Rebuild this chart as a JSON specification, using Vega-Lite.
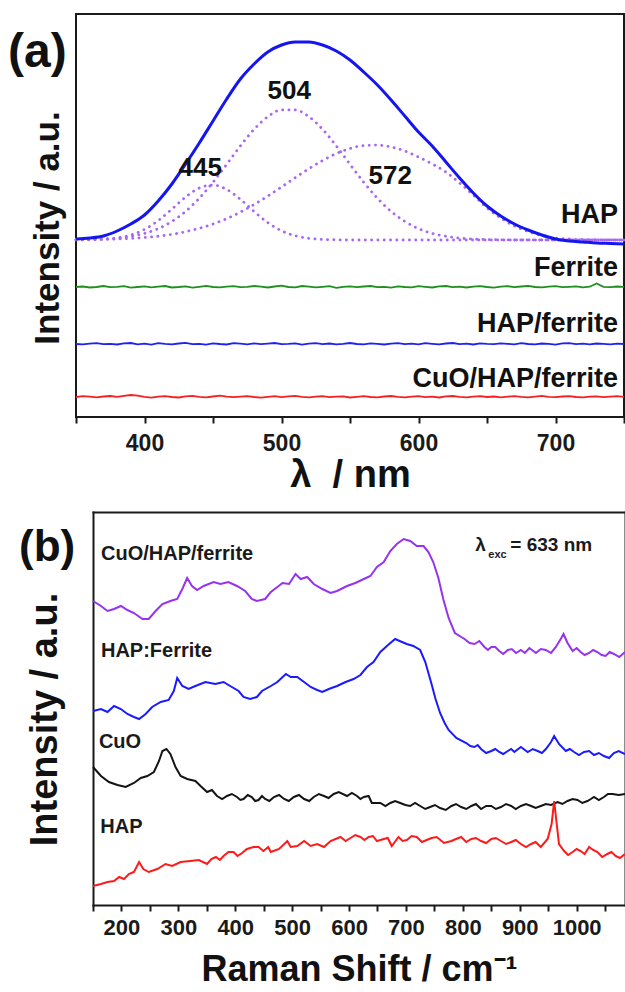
{
  "$schema": "https://vega.github.io/schema/vega-lite/v6.json",
  "padding": {"left": 7, "top": 13, "right": 0, "bottom": 0},
  "background": "white",
  "config": {
    "font": "Liberation Sans",
    "view": {"stroke": "#1a1a1a", "strokeWidth": 2},
    "axis": {
      "grid": false, "domain": false,
      "labelFontWeight": "bold", "titleFontWeight": "bold",
      "labelColor": "#1a1a1a", "titleColor": "#111111",
      "tickColor": "#1a1a1a", "tickWidth": 2, "tickSize": 6,
      "domainColor": "#1a1a1a", "domainWidth": 2, "domainCap": "square"
    }
  },
  "columns": 1,
  "spacing": 17,
  "resolve": {"scale": {"color": "independent"}},
  "datasets": {
    "pl_fit": [
      {"w":350,"c445":177.1,"c504":177.2,"c572":177.2,"HAP":178},
      {"w":360,"c445":177.2,"c504":177.4,"c572":177.4,"HAP":179},
      {"w":370,"c445":177.8,"c504":177.9,"c572":177.6,"HAP":181},
      {"w":380,"c445":179.1,"c504":178.9,"c572":178,"HAP":186},
      {"w":390,"c445":182,"c504":180.7,"c572":178.6,"HAP":193},
      {"w":400,"c445":187.6,"c504":183.6,"c572":179.5,"HAP":202},
      {"w":410,"c445":196.4,"c504":188.4,"c572":180.8,"HAP":216},
      {"w":420,"c445":207.9,"c504":195.6,"c572":182.7,"HAP":233},
      {"w":430,"c445":220,"c504":205.6,"c572":185.3,"HAP":253},
      {"w":440,"c445":229,"c504":218.8,"c572":188.7,"HAP":274},
      {"w":450,"c445":232,"c504":234.8,"c572":193,"HAP":296},
      {"w":460,"c445":227.6,"c504":252.7,"c572":198.4,"HAP":318},
      {"w":470,"c445":217.7,"c504":271.1,"c572":204.9,"HAP":338},
      {"w":480,"c445":205.5,"c504":287.7,"c572":212.5,"HAP":353},
      {"w":490,"c445":194.4,"c504":300.3,"c572":220.9,"HAP":365},
      {"w":500,"c445":186.2,"c504":307.1,"c572":230,"HAP":372},
      {"w":510,"c445":181.3,"c504":307.1,"c572":239.3,"HAP":375},
      {"w":520,"c445":178.7,"c504":300.3,"c572":248.3,"HAP":375},
      {"w":530,"c445":177.6,"c504":287.7,"c572":256.5,"HAP":372},
      {"w":540,"c445":177.2,"c504":271.1,"c572":263.4,"HAP":366},
      {"w":550,"c445":177,"c504":252.7,"c572":268.5,"HAP":357},
      {"w":560,"c445":177,"c504":234.8,"c572":271.4,"HAP":345},
      {"w":570,"c445":177,"c504":218.8,"c572":271.9,"HAP":332},
      {"w":580,"c445":177,"c504":205.6,"c572":270,"HAP":317},
      {"w":590,"c445":177,"c504":195.6,"c572":266,"HAP":301},
      {"w":600,"c445":177,"c504":188.4,"c572":260,"HAP":285},
      {"w":610,"c445":177,"c504":183.6,"c572":253,"HAP":271},
      {"w":620,"c445":177,"c504":180.7,"c572":245,"HAP":255},
      {"w":630,"c445":177,"c504":178.9,"c572":234,"HAP":239},
      {"w":640,"c445":177,"c504":177.9,"c572":222,"HAP":224},
      {"w":650,"c445":177,"c504":177.4,"c572":209,"HAP":211},
      {"w":660,"c445":177,"c504":177.2,"c572":199,"HAP":201},
      {"w":670,"c445":177,"c504":177,"c572":191,"HAP":193},
      {"w":680,"c445":177,"c504":177,"c572":185.5,"HAP":187},
      {"w":690,"c445":177,"c504":177,"c572":181.5,"HAP":182},
      {"w":700,"c445":177,"c504":177,"c572":179,"HAP":178},
      {"w":710,"c445":177,"c504":177,"c572":178,"HAP":176},
      {"w":720,"c445":177,"c504":177,"c572":177.5,"HAP":175},
      {"w":730,"c445":177,"c504":177,"c572":177.2,"HAP":174},
      {"w":740,"c445":177,"c504":177,"c572":177,"HAP":173.5},
      {"w":750,"c445":177,"c504":177,"c572":177,"HAP":173}
    ],
    "pl_flat": [
      {"w":350,"Ferrite":130,"HAPferrite":73,"CuOHAPferrite":20},
      {"w":355,"Ferrite":130.5,"HAPferrite":72.6,"CuOHAPferrite":20.8},
      {"w":360,"Ferrite":129.5,"HAPferrite":73.4,"CuOHAPferrite":20.3},
      {"w":365,"Ferrite":130,"HAPferrite":73.9,"CuOHAPferrite":19.6},
      {"w":370,"Ferrite":131,"HAPferrite":72.8,"CuOHAPferrite":20.5},
      {"w":375,"Ferrite":129.8,"HAPferrite":73.2,"CuOHAPferrite":21},
      {"w":380,"Ferrite":130.2,"HAPferrite":72.5,"CuOHAPferrite":20.2},
      {"w":385,"Ferrite":130.8,"HAPferrite":73.6,"CuOHAPferrite":21.2},
      {"w":390,"Ferrite":129.4,"HAPferrite":74,"CuOHAPferrite":22},
      {"w":395,"Ferrite":130,"HAPferrite":72.7,"CuOHAPferrite":21.4},
      {"w":400,"Ferrite":130.6,"HAPferrite":73.3,"CuOHAPferrite":20.1},
      {"w":405,"Ferrite":129.7,"HAPferrite":72.4,"CuOHAPferrite":19.3},
      {"w":410,"Ferrite":130.3,"HAPferrite":73.8,"CuOHAPferrite":20.4},
      {"w":415,"Ferrite":131,"HAPferrite":73.1,"CuOHAPferrite":20.9},
      {"w":420,"Ferrite":129.5,"HAPferrite":72.6,"CuOHAPferrite":20},
      {"w":425,"Ferrite":130,"HAPferrite":73.5,"CuOHAPferrite":19.5},
      {"w":430,"Ferrite":130.7,"HAPferrite":74.1,"CuOHAPferrite":20.6},
      {"w":435,"Ferrite":129.3,"HAPferrite":72.9,"CuOHAPferrite":21.1},
      {"w":440,"Ferrite":130.2,"HAPferrite":73.2,"CuOHAPferrite":20.2},
      {"w":445,"Ferrite":131.2,"HAPferrite":72.3,"CuOHAPferrite":19.7},
      {"w":450,"Ferrite":130,"HAPferrite":73.7,"CuOHAPferrite":20.5},
      {"w":455,"Ferrite":129.6,"HAPferrite":73,"CuOHAPferrite":21.3},
      {"w":460,"Ferrite":130.4,"HAPferrite":72.5,"CuOHAPferrite":20.4},
      {"w":465,"Ferrite":130.9,"HAPferrite":73.9,"CuOHAPferrite":19.8},
      {"w":470,"Ferrite":129.8,"HAPferrite":73.3,"CuOHAPferrite":20.3},
      {"w":475,"Ferrite":130.1,"HAPferrite":72.7,"CuOHAPferrite":20.9},
      {"w":480,"Ferrite":131,"HAPferrite":73.6,"CuOHAPferrite":20},
      {"w":485,"Ferrite":130.3,"HAPferrite":72.9,"CuOHAPferrite":19.4},
      {"w":490,"Ferrite":129.5,"HAPferrite":73.4,"CuOHAPferrite":20.2},
      {"w":495,"Ferrite":130.5,"HAPferrite":74,"CuOHAPferrite":20.8},
      {"w":500,"Ferrite":131.3,"HAPferrite":72.8,"CuOHAPferrite":19.9},
      {"w":505,"Ferrite":130,"HAPferrite":73.1,"CuOHAPferrite":20.6},
      {"w":510,"Ferrite":129.7,"HAPferrite":73.7,"CuOHAPferrite":21.2},
      {"w":515,"Ferrite":131,"HAPferrite":72.4,"CuOHAPferrite":20.1},
      {"w":520,"Ferrite":130.4,"HAPferrite":73.3,"CuOHAPferrite":19.6},
      {"w":525,"Ferrite":129.6,"HAPferrite":73.8,"CuOHAPferrite":20.4},
      {"w":530,"Ferrite":130.2,"HAPferrite":72.9,"CuOHAPferrite":20.9},
      {"w":535,"Ferrite":130.8,"HAPferrite":73.5,"CuOHAPferrite":19.8},
      {"w":540,"Ferrite":129.2,"HAPferrite":72.6,"CuOHAPferrite":20.3},
      {"w":545,"Ferrite":130.1,"HAPferrite":73.2,"CuOHAPferrite":20.7},
      {"w":550,"Ferrite":130.6,"HAPferrite":74,"CuOHAPferrite":19.5},
      {"w":555,"Ferrite":129.8,"HAPferrite":73,"CuOHAPferrite":20.2},
      {"w":560,"Ferrite":130.5,"HAPferrite":72.7,"CuOHAPferrite":20.8},
      {"w":565,"Ferrite":131,"HAPferrite":73.6,"CuOHAPferrite":20},
      {"w":570,"Ferrite":129.9,"HAPferrite":73.1,"CuOHAPferrite":19.6},
      {"w":575,"Ferrite":130.2,"HAPferrite":72.5,"CuOHAPferrite":20.5},
      {"w":580,"Ferrite":129.4,"HAPferrite":73.4,"CuOHAPferrite":21},
      {"w":585,"Ferrite":130.7,"HAPferrite":73.9,"CuOHAPferrite":20.1},
      {"w":590,"Ferrite":130,"HAPferrite":72.8,"CuOHAPferrite":19.7},
      {"w":595,"Ferrite":129.6,"HAPferrite":73.3,"CuOHAPferrite":20.4},
      {"w":600,"Ferrite":130.8,"HAPferrite":72.6,"CuOHAPferrite":20.8},
      {"w":605,"Ferrite":130.2,"HAPferrite":73.8,"CuOHAPferrite":19.9},
      {"w":610,"Ferrite":129.5,"HAPferrite":73.2,"CuOHAPferrite":20.3},
      {"w":615,"Ferrite":130.6,"HAPferrite":72.7,"CuOHAPferrite":19.5},
      {"w":620,"Ferrite":131,"HAPferrite":73.5,"CuOHAPferrite":20.6},
      {"w":625,"Ferrite":129.9,"HAPferrite":74,"CuOHAPferrite":21},
      {"w":630,"Ferrite":130.3,"HAPferrite":72.9,"CuOHAPferrite":20.2},
      {"w":635,"Ferrite":129.5,"HAPferrite":73.3,"CuOHAPferrite":19.6},
      {"w":640,"Ferrite":130.4,"HAPferrite":72.5,"CuOHAPferrite":20.4},
      {"w":645,"Ferrite":130.9,"HAPferrite":73.7,"CuOHAPferrite":20.9},
      {"w":650,"Ferrite":130,"HAPferrite":73.1,"CuOHAPferrite":20},
      {"w":655,"Ferrite":129.4,"HAPferrite":72.8,"CuOHAPferrite":20.5},
      {"w":660,"Ferrite":130.3,"HAPferrite":73.6,"CuOHAPferrite":19.7},
      {"w":665,"Ferrite":130.8,"HAPferrite":73.2,"CuOHAPferrite":20.3},
      {"w":670,"Ferrite":129.8,"HAPferrite":72.6,"CuOHAPferrite":20.8},
      {"w":675,"Ferrite":130.5,"HAPferrite":73.9,"CuOHAPferrite":20.1},
      {"w":680,"Ferrite":131.1,"HAPferrite":73,"CuOHAPferrite":19.6},
      {"w":685,"Ferrite":130,"HAPferrite":72.7,"CuOHAPferrite":20.4},
      {"w":690,"Ferrite":129.6,"HAPferrite":73.5,"CuOHAPferrite":21.1},
      {"w":695,"Ferrite":130.4,"HAPferrite":73.1,"CuOHAPferrite":20.2},
      {"w":700,"Ferrite":130.9,"HAPferrite":72.4,"CuOHAPferrite":19.8},
      {"w":705,"Ferrite":129.8,"HAPferrite":73.6,"CuOHAPferrite":20.5},
      {"w":710,"Ferrite":130.2,"HAPferrite":73.9,"CuOHAPferrite":20.9},
      {"w":715,"Ferrite":130.7,"HAPferrite":72.9,"CuOHAPferrite":20},
      {"w":720,"Ferrite":129.7,"HAPferrite":73.3,"CuOHAPferrite":19.6},
      {"w":725,"Ferrite":130.3,"HAPferrite":72.7,"CuOHAPferrite":20.3},
      {"w":730,"Ferrite":133.5,"HAPferrite":73.5,"CuOHAPferrite":20.7},
      {"w":735,"Ferrite":130.2,"HAPferrite":73.1,"CuOHAPferrite":19.9},
      {"w":740,"Ferrite":129.8,"HAPferrite":72.6,"CuOHAPferrite":20.4},
      {"w":745,"Ferrite":130.5,"HAPferrite":73.4,"CuOHAPferrite":20.8},
      {"w":750,"Ferrite":130.1,"HAPferrite":73,"CuOHAPferrite":20.2}
    ],
    "a_series": [
      {"label":"HAP","w":745.6,"v":193.7},
      {"label":"Ferrite","w":745.6,"v":141},
      {"label":"HAP/ferrite","w":745.6,"v":85.3},
      {"label":"CuO/HAP/ferrite","w":745.6,"v":30.3}
    ],
    "a_peaks": [
      {"label":"445","w":440.7,"v":248.8},
      {"label":"504","w":505.7,"v":326.5},
      {"label":"572","w":579.4,"v":241.5}
    ],
    "a_tag": [{"label":"(a)","w":300.4,"v":364}],
    "raman": [
      {"sample":"CuO/HAP/ferrite","shift":150,"v":304},{"sample":"CuO/HAP/ferrite","shift":164,"v":299},{"sample":"CuO/HAP/ferrite","shift":175.5,"v":294},{"sample":"CuO/HAP/ferrite","shift":187,"v":296},{"sample":"CuO/HAP/ferrite","shift":199,"v":299},{"sample":"CuO/HAP/ferrite","shift":210.5,"v":295},{"sample":"CuO/HAP/ferrite","shift":222,"v":292},{"sample":"CuO/HAP/ferrite","shift":237,"v":286},{"sample":"CuO/HAP/ferrite","shift":248,"v":286},{"sample":"CuO/HAP/ferrite","shift":260,"v":294},{"sample":"CuO/HAP/ferrite","shift":272,"v":301},{"sample":"CuO/HAP/ferrite","shift":286,"v":304},{"sample":"CuO/HAP/ferrite","shift":298,"v":306},{"sample":"CuO/HAP/ferrite","shift":307,"v":316},{"sample":"CuO/HAP/ferrite","shift":315.5,"v":327},{"sample":"CuO/HAP/ferrite","shift":324,"v":319},{"sample":"CuO/HAP/ferrite","shift":333,"v":315},{"sample":"CuO/HAP/ferrite","shift":344.5,"v":319},{"sample":"CuO/HAP/ferrite","shift":362,"v":323},{"sample":"CuO/HAP/ferrite","shift":374,"v":321},{"sample":"CuO/HAP/ferrite","shift":388,"v":323},{"sample":"CuO/HAP/ferrite","shift":403,"v":319},{"sample":"CuO/HAP/ferrite","shift":417.5,"v":314},{"sample":"CuO/HAP/ferrite","shift":429,"v":306},{"sample":"CuO/HAP/ferrite","shift":438,"v":304},{"sample":"CuO/HAP/ferrite","shift":452.5,"v":306},{"sample":"CuO/HAP/ferrite","shift":462.5,"v":313},{"sample":"CuO/HAP/ferrite","shift":474,"v":318},{"sample":"CuO/HAP/ferrite","shift":483,"v":322},{"sample":"CuO/HAP/ferrite","shift":494.5,"v":321},{"sample":"CuO/HAP/ferrite","shift":506,"v":331},{"sample":"CuO/HAP/ferrite","shift":515,"v":326},{"sample":"CuO/HAP/ferrite","shift":526.5,"v":328},{"sample":"CuO/HAP/ferrite","shift":538,"v":321},{"sample":"CuO/HAP/ferrite","shift":553,"v":316},{"sample":"CuO/HAP/ferrite","shift":567.5,"v":312},{"sample":"CuO/HAP/ferrite","shift":579,"v":314},{"sample":"CuO/HAP/ferrite","shift":596.5,"v":319},{"sample":"CuO/HAP/ferrite","shift":611,"v":322},{"sample":"CuO/HAP/ferrite","shift":626,"v":326},{"sample":"CuO/HAP/ferrite","shift":637.5,"v":329},{"sample":"CuO/HAP/ferrite","shift":649,"v":338},{"sample":"CuO/HAP/ferrite","shift":661,"v":343},{"sample":"CuO/HAP/ferrite","shift":672.5,"v":354},{"sample":"CuO/HAP/ferrite","shift":684,"v":361},{"sample":"CuO/HAP/ferrite","shift":696,"v":366},{"sample":"CuO/HAP/ferrite","shift":707.5,"v":364},{"sample":"CuO/HAP/ferrite","shift":719,"v":359},{"sample":"CuO/HAP/ferrite","shift":731,"v":359},{"sample":"CuO/HAP/ferrite","shift":739.5,"v":353},{"sample":"CuO/HAP/ferrite","shift":748,"v":343},{"sample":"CuO/HAP/ferrite","shift":757,"v":327},{"sample":"CuO/HAP/ferrite","shift":766,"v":305},{"sample":"CuO/HAP/ferrite","shift":775,"v":287},{"sample":"CuO/HAP/ferrite","shift":786,"v":272},{"sample":"CuO/HAP/ferrite","shift":803,"v":266},{"sample":"CuO/HAP/ferrite","shift":812,"v":262},{"sample":"CuO/HAP/ferrite","shift":820.5,"v":261},{"sample":"CuO/HAP/ferrite","shift":829,"v":264},{"sample":"CuO/HAP/ferrite","shift":838,"v":258},{"sample":"CuO/HAP/ferrite","shift":844,"v":255},{"sample":"CuO/HAP/ferrite","shift":850,"v":258},{"sample":"CuO/HAP/ferrite","shift":857,"v":258},{"sample":"CuO/HAP/ferrite","shift":864,"v":254},{"sample":"CuO/HAP/ferrite","shift":871,"v":251},{"sample":"CuO/HAP/ferrite","shift":879,"v":255},{"sample":"CuO/HAP/ferrite","shift":886,"v":256},{"sample":"CuO/HAP/ferrite","shift":893.5,"v":252},{"sample":"CuO/HAP/ferrite","shift":902,"v":255},{"sample":"CuO/HAP/ferrite","shift":909,"v":252},{"sample":"CuO/HAP/ferrite","shift":917,"v":257},{"sample":"CuO/HAP/ferrite","shift":928.5,"v":252},{"sample":"CuO/HAP/ferrite","shift":937,"v":256},{"sample":"CuO/HAP/ferrite","shift":946,"v":255},{"sample":"CuO/HAP/ferrite","shift":955,"v":252},{"sample":"CuO/HAP/ferrite","shift":963.5,"v":258},{"sample":"CuO/HAP/ferrite","shift":972,"v":266},{"sample":"CuO/HAP/ferrite","shift":977,"v":271},{"sample":"CuO/HAP/ferrite","shift":984,"v":262},{"sample":"CuO/HAP/ferrite","shift":993,"v":254},{"sample":"CuO/HAP/ferrite","shift":1000,"v":257},{"sample":"CuO/HAP/ferrite","shift":1007,"v":253},{"sample":"CuO/HAP/ferrite","shift":1014,"v":250},{"sample":"CuO/HAP/ferrite","shift":1022,"v":252},{"sample":"CuO/HAP/ferrite","shift":1029,"v":255},{"sample":"CuO/HAP/ferrite","shift":1036.5,"v":253},{"sample":"CuO/HAP/ferrite","shift":1044,"v":250},{"sample":"CuO/HAP/ferrite","shift":1051,"v":249},{"sample":"CuO/HAP/ferrite","shift":1058,"v":253},{"sample":"CuO/HAP/ferrite","shift":1065.5,"v":251},{"sample":"CuO/HAP/ferrite","shift":1075,"v":248},{"sample":"CuO/HAP/ferrite","shift":1085,"v":253},
      {"sample":"HAP:Ferrite","shift":150,"v":194},{"sample":"HAP:Ferrite","shift":164,"v":196},{"sample":"HAP:Ferrite","shift":175.5,"v":193},{"sample":"HAP:Ferrite","shift":187,"v":199},{"sample":"HAP:Ferrite","shift":199,"v":196},{"sample":"HAP:Ferrite","shift":210.5,"v":191},{"sample":"HAP:Ferrite","shift":222,"v":188},{"sample":"HAP:Ferrite","shift":231,"v":186},{"sample":"HAP:Ferrite","shift":242.5,"v":191},{"sample":"HAP:Ferrite","shift":254,"v":198},{"sample":"HAP:Ferrite","shift":269,"v":203},{"sample":"HAP:Ferrite","shift":283,"v":205},{"sample":"HAP:Ferrite","shift":292,"v":214},{"sample":"HAP:Ferrite","shift":298,"v":227},{"sample":"HAP:Ferrite","shift":307,"v":219},{"sample":"HAP:Ferrite","shift":318,"v":216},{"sample":"HAP:Ferrite","shift":330,"v":219},{"sample":"HAP:Ferrite","shift":347.5,"v":223},{"sample":"HAP:Ferrite","shift":365,"v":221},{"sample":"HAP:Ferrite","shift":379.5,"v":223},{"sample":"HAP:Ferrite","shift":391,"v":219},{"sample":"HAP:Ferrite","shift":406,"v":214},{"sample":"HAP:Ferrite","shift":414.5,"v":208},{"sample":"HAP:Ferrite","shift":426,"v":206},{"sample":"HAP:Ferrite","shift":438,"v":208},{"sample":"HAP:Ferrite","shift":447,"v":214},{"sample":"HAP:Ferrite","shift":462.5,"v":219},{"sample":"HAP:Ferrite","shift":474,"v":223},{"sample":"HAP:Ferrite","shift":489,"v":231},{"sample":"HAP:Ferrite","shift":497.5,"v":228},{"sample":"HAP:Ferrite","shift":509,"v":228},{"sample":"HAP:Ferrite","shift":521,"v":223},{"sample":"HAP:Ferrite","shift":532.5,"v":218},{"sample":"HAP:Ferrite","shift":544,"v":215},{"sample":"HAP:Ferrite","shift":553,"v":213},{"sample":"HAP:Ferrite","shift":564.5,"v":216},{"sample":"HAP:Ferrite","shift":579,"v":219},{"sample":"HAP:Ferrite","shift":594,"v":223},{"sample":"HAP:Ferrite","shift":608,"v":226},{"sample":"HAP:Ferrite","shift":620,"v":230},{"sample":"HAP:Ferrite","shift":631.5,"v":238},{"sample":"HAP:Ferrite","shift":643,"v":243},{"sample":"HAP:Ferrite","shift":655,"v":253},{"sample":"HAP:Ferrite","shift":666.5,"v":259},{"sample":"HAP:Ferrite","shift":681,"v":266},{"sample":"HAP:Ferrite","shift":693,"v":263},{"sample":"HAP:Ferrite","shift":701.5,"v":261},{"sample":"HAP:Ferrite","shift":713,"v":259},{"sample":"HAP:Ferrite","shift":725,"v":255},{"sample":"HAP:Ferrite","shift":734,"v":243},{"sample":"HAP:Ferrite","shift":745,"v":221},{"sample":"HAP:Ferrite","shift":752,"v":206},{"sample":"HAP:Ferrite","shift":760,"v":192},{"sample":"HAP:Ferrite","shift":768,"v":182},{"sample":"HAP:Ferrite","shift":775,"v":175},{"sample":"HAP:Ferrite","shift":788.5,"v":167},{"sample":"HAP:Ferrite","shift":806,"v":162},{"sample":"HAP:Ferrite","shift":813,"v":159},{"sample":"HAP:Ferrite","shift":820.5,"v":158},{"sample":"HAP:Ferrite","shift":826,"v":160},{"sample":"HAP:Ferrite","shift":832,"v":156},{"sample":"HAP:Ferrite","shift":841,"v":152},{"sample":"HAP:Ferrite","shift":850,"v":154},{"sample":"HAP:Ferrite","shift":857,"v":156},{"sample":"HAP:Ferrite","shift":864,"v":153},{"sample":"HAP:Ferrite","shift":871,"v":151},{"sample":"HAP:Ferrite","shift":879,"v":154},{"sample":"HAP:Ferrite","shift":885,"v":156},{"sample":"HAP:Ferrite","shift":890.5,"v":153},{"sample":"HAP:Ferrite","shift":902,"v":158},{"sample":"HAP:Ferrite","shift":914,"v":153},{"sample":"HAP:Ferrite","shift":923,"v":156},{"sample":"HAP:Ferrite","shift":931.5,"v":154},{"sample":"HAP:Ferrite","shift":939,"v":152},{"sample":"HAP:Ferrite","shift":946,"v":156},{"sample":"HAP:Ferrite","shift":955,"v":163},{"sample":"HAP:Ferrite","shift":960.5,"v":169},{"sample":"HAP:Ferrite","shift":969,"v":161},{"sample":"HAP:Ferrite","shift":981,"v":154},{"sample":"HAP:Ferrite","shift":988,"v":156},{"sample":"HAP:Ferrite","shift":995.5,"v":153},{"sample":"HAP:Ferrite","shift":1004,"v":150},{"sample":"HAP:Ferrite","shift":1013,"v":153},{"sample":"HAP:Ferrite","shift":1022,"v":154},{"sample":"HAP:Ferrite","shift":1030.5,"v":150},{"sample":"HAP:Ferrite","shift":1039,"v":152},{"sample":"HAP:Ferrite","shift":1048,"v":149},{"sample":"HAP:Ferrite","shift":1057,"v":147},{"sample":"HAP:Ferrite","shift":1065.5,"v":152},{"sample":"HAP:Ferrite","shift":1074,"v":154},{"sample":"HAP:Ferrite","shift":1085,"v":151},
      {"sample":"CuO","shift":150,"v":138},{"sample":"CuO","shift":164,"v":129},{"sample":"CuO","shift":178,"v":123},{"sample":"CuO","shift":193,"v":120},{"sample":"CuO","shift":207.5,"v":118},{"sample":"CuO","shift":222,"v":122},{"sample":"CuO","shift":234,"v":127},{"sample":"CuO","shift":245.5,"v":129},{"sample":"CuO","shift":257,"v":133},{"sample":"CuO","shift":266,"v":144},{"sample":"CuO","shift":272,"v":154},{"sample":"CuO","shift":279,"v":156},{"sample":"CuO","shift":286,"v":151},{"sample":"CuO","shift":295,"v":138},{"sample":"CuO","shift":304,"v":129},{"sample":"CuO","shift":315.5,"v":126},{"sample":"CuO","shift":330,"v":124},{"sample":"CuO","shift":339,"v":119},{"sample":"CuO","shift":350.5,"v":113},{"sample":"CuO","shift":359,"v":115},{"sample":"CuO","shift":368,"v":109},{"sample":"CuO","shift":377,"v":106},{"sample":"CuO","shift":385.5,"v":109},{"sample":"CuO","shift":394,"v":111},{"sample":"CuO","shift":403,"v":108},{"sample":"CuO","shift":409,"v":105},{"sample":"CuO","shift":414.5,"v":106},{"sample":"CuO","shift":422,"v":110},{"sample":"CuO","shift":429,"v":108},{"sample":"CuO","shift":435,"v":104},{"sample":"CuO","shift":441,"v":105},{"sample":"CuO","shift":447,"v":109},{"sample":"CuO","shift":452.5,"v":106},{"sample":"CuO","shift":460,"v":104},{"sample":"CuO","shift":468,"v":108},{"sample":"CuO","shift":477,"v":110},{"sample":"CuO","shift":486,"v":106},{"sample":"CuO","shift":494,"v":104},{"sample":"CuO","shift":503,"v":108},{"sample":"CuO","shift":512,"v":110},{"sample":"CuO","shift":521,"v":106},{"sample":"CuO","shift":530,"v":104},{"sample":"CuO","shift":538,"v":108},{"sample":"CuO","shift":547,"v":111},{"sample":"CuO","shift":556,"v":109},{"sample":"CuO","shift":564,"v":107},{"sample":"CuO","shift":573,"v":111},{"sample":"CuO","shift":582,"v":113},{"sample":"CuO","shift":596.5,"v":109},{"sample":"CuO","shift":605,"v":112},{"sample":"CuO","shift":614,"v":109},{"sample":"CuO","shift":620,"v":106},{"sample":"CuO","shift":626,"v":108},{"sample":"CuO","shift":634.5,"v":109},{"sample":"CuO","shift":640,"v":102},{"sample":"CuO","shift":655,"v":102},{"sample":"CuO","shift":664,"v":99},{"sample":"CuO","shift":672.5,"v":102},{"sample":"CuO","shift":681,"v":104},{"sample":"CuO","shift":690,"v":102},{"sample":"CuO","shift":699,"v":100},{"sample":"CuO","shift":707.5,"v":99},{"sample":"CuO","shift":716,"v":102},{"sample":"CuO","shift":725,"v":99},{"sample":"CuO","shift":734,"v":96},{"sample":"CuO","shift":742.5,"v":98},{"sample":"CuO","shift":751,"v":100},{"sample":"CuO","shift":760,"v":97},{"sample":"CuO","shift":770,"v":95},{"sample":"CuO","shift":780,"v":99},{"sample":"CuO","shift":788,"v":101},{"sample":"CuO","shift":797,"v":98},{"sample":"CuO","shift":806,"v":96},{"sample":"CuO","shift":815,"v":99},{"sample":"CuO","shift":823,"v":101},{"sample":"CuO","shift":832,"v":96},{"sample":"CuO","shift":841,"v":99},{"sample":"CuO","shift":850,"v":99},{"sample":"CuO","shift":858,"v":96},{"sample":"CuO","shift":867,"v":98},{"sample":"CuO","shift":876,"v":101},{"sample":"CuO","shift":885,"v":99},{"sample":"CuO","shift":893,"v":96},{"sample":"CuO","shift":902,"v":99},{"sample":"CuO","shift":911,"v":101},{"sample":"CuO","shift":920,"v":99},{"sample":"CuO","shift":928,"v":97},{"sample":"CuO","shift":937,"v":99},{"sample":"CuO","shift":946,"v":101},{"sample":"CuO","shift":955,"v":100},{"sample":"CuO","shift":966.5,"v":103},{"sample":"CuO","shift":975,"v":101},{"sample":"CuO","shift":984,"v":104},{"sample":"CuO","shift":993,"v":106},{"sample":"CuO","shift":1001.5,"v":105},{"sample":"CuO","shift":1010,"v":102},{"sample":"CuO","shift":1019,"v":104},{"sample":"CuO","shift":1025,"v":106},{"sample":"CuO","shift":1030.5,"v":108},{"sample":"CuO","shift":1039,"v":105},{"sample":"CuO","shift":1048,"v":108},{"sample":"CuO","shift":1055,"v":111},{"sample":"CuO","shift":1063,"v":111},{"sample":"CuO","shift":1074,"v":110},{"sample":"CuO","shift":1085,"v":111},
      {"sample":"HAP","shift":150,"v":19},{"sample":"HAP","shift":164,"v":21},{"sample":"HAP","shift":175.5,"v":23},{"sample":"HAP","shift":187,"v":24},{"sample":"HAP","shift":196,"v":28},{"sample":"HAP","shift":204.5,"v":26},{"sample":"HAP","shift":213,"v":31},{"sample":"HAP","shift":222,"v":33},{"sample":"HAP","shift":231,"v":43},{"sample":"HAP","shift":238.5,"v":36},{"sample":"HAP","shift":248,"v":33},{"sample":"HAP","shift":263,"v":36},{"sample":"HAP","shift":277.5,"v":41},{"sample":"HAP","shift":289,"v":39},{"sample":"HAP","shift":304,"v":43},{"sample":"HAP","shift":321,"v":44},{"sample":"HAP","shift":336,"v":45},{"sample":"HAP","shift":350.5,"v":41},{"sample":"HAP","shift":358,"v":46},{"sample":"HAP","shift":366,"v":48},{"sample":"HAP","shift":373,"v":45},{"sample":"HAP","shift":379.5,"v":49},{"sample":"HAP","shift":388,"v":53},{"sample":"HAP","shift":397,"v":53},{"sample":"HAP","shift":404,"v":49},{"sample":"HAP","shift":412,"v":52},{"sample":"HAP","shift":420.5,"v":56},{"sample":"HAP","shift":432,"v":58},{"sample":"HAP","shift":441,"v":58},{"sample":"HAP","shift":449.5,"v":54},{"sample":"HAP","shift":458,"v":58},{"sample":"HAP","shift":462.5,"v":53},{"sample":"HAP","shift":477,"v":56},{"sample":"HAP","shift":491.5,"v":64},{"sample":"HAP","shift":497.5,"v":58},{"sample":"HAP","shift":509,"v":59},{"sample":"HAP","shift":521,"v":64},{"sample":"HAP","shift":532.5,"v":59},{"sample":"HAP","shift":544,"v":61},{"sample":"HAP","shift":556,"v":58},{"sample":"HAP","shift":567.5,"v":64},{"sample":"HAP","shift":585,"v":68},{"sample":"HAP","shift":594,"v":64},{"sample":"HAP","shift":602.5,"v":67},{"sample":"HAP","shift":611,"v":70},{"sample":"HAP","shift":620,"v":68},{"sample":"HAP","shift":627,"v":65},{"sample":"HAP","shift":634.5,"v":68},{"sample":"HAP","shift":642,"v":69},{"sample":"HAP","shift":649,"v":64},{"sample":"HAP","shift":661,"v":66},{"sample":"HAP","shift":668,"v":67},{"sample":"HAP","shift":675,"v":59},{"sample":"HAP","shift":687,"v":68},{"sample":"HAP","shift":694,"v":64},{"sample":"HAP","shift":701.5,"v":65},{"sample":"HAP","shift":710,"v":69},{"sample":"HAP","shift":719,"v":68},{"sample":"HAP","shift":728,"v":63},{"sample":"HAP","shift":736.5,"v":65},{"sample":"HAP","shift":745,"v":67},{"sample":"HAP","shift":754,"v":68},{"sample":"HAP","shift":767,"v":62},{"sample":"HAP","shift":780,"v":64},{"sample":"HAP","shift":788,"v":66},{"sample":"HAP","shift":797,"v":68},{"sample":"HAP","shift":806,"v":63},{"sample":"HAP","shift":815,"v":66},{"sample":"HAP","shift":823,"v":67},{"sample":"HAP","shift":832,"v":64},{"sample":"HAP","shift":841,"v":62},{"sample":"HAP","shift":850,"v":66},{"sample":"HAP","shift":858,"v":67},{"sample":"HAP","shift":867,"v":64},{"sample":"HAP","shift":876,"v":61},{"sample":"HAP","shift":885,"v":63},{"sample":"HAP","shift":893,"v":65},{"sample":"HAP","shift":902,"v":61},{"sample":"HAP","shift":911,"v":58},{"sample":"HAP","shift":920,"v":61},{"sample":"HAP","shift":928,"v":63},{"sample":"HAP","shift":937,"v":58},{"sample":"HAP","shift":949,"v":66},{"sample":"HAP","shift":956,"v":81},{"sample":"HAP","shift":960.5,"v":104},{"sample":"HAP","shift":965,"v":81},{"sample":"HAP","shift":969,"v":61},{"sample":"HAP","shift":978,"v":54},{"sample":"HAP","shift":985,"v":50},{"sample":"HAP","shift":993,"v":53},{"sample":"HAP","shift":1000,"v":56},{"sample":"HAP","shift":1007,"v":54},{"sample":"HAP","shift":1014,"v":51},{"sample":"HAP","shift":1022,"v":58},{"sample":"HAP","shift":1029,"v":55},{"sample":"HAP","shift":1036.5,"v":53},{"sample":"HAP","shift":1045,"v":48},{"sample":"HAP","shift":1054,"v":51},{"sample":"HAP","shift":1061,"v":53},{"sample":"HAP","shift":1068.5,"v":49},{"sample":"HAP","shift":1076,"v":47},{"sample":"HAP","shift":1085,"v":51}
    ],
    "b_series": [
      {"label":"CuO/HAP/ferrite","shift":164,"v":345.3},
      {"label":"HAP:Ferrite","shift":164,"v":248},
      {"label":"CuO","shift":160.4,"v":157},
      {"label":"HAP","shift":162.8,"v":72}
    ],
    "b_tag": [{"label":"(b)","shift":20,"v":357}],
    "b_exc": [{"shift":822,"v":354.3}]
  },
  "concat": [
    {
      "width": 548,
      "height": 403,
      "encoding": {
        "x": {
          "field": "w", "type": "quantitative",
          "scale": {"domain": [350, 750], "nice": false, "zero": false},
          "title": "λ\u00a0\u00a0/ nm",
          "axis": {
            "values": [350, 400, 450, 500, 550, 600, 650, 700, 750],
            "format": "d",
            "labelExpr": "datum.value % 100 === 0 ? datum.label : ''",
            "labelFontSize": 23, "labelPadding": 9, "labelFlush": false, "labelOverlap": false,
            "titleFontSize": 38, "titlePadding": 1
          }
        },
        "y": {
          "field": "v", "type": "quantitative",
          "scale": {"domain": [0, 403], "nice": false, "zero": false},
          "title": "Intensity / a.u.",
          "axis": {"ticks": false, "labels": false, "titleFontSize": 35, "titlePadding": 11, "titleY": 213.5}
        }
      },
      "layer": [
        {
          "data": {"name": "pl_fit"},
          "transform": [{"fold": ["c445", "c504", "c572"], "as": ["band", "v"]}],
          "mark": {"type": "line", "interpolate": "monotone", "color": "#a867f2", "strokeWidth": 2.8, "strokeDash": [0.1, 6.2], "strokeCap": "round"},
          "encoding": {"detail": {"field": "band", "type": "nominal"}}
        },
        {
          "data": {"name": "pl_fit"},
          "transform": [{"fold": ["HAP"], "as": ["band", "v"]}],
          "mark": {"type": "line", "interpolate": "monotone", "color": "#1515f0", "strokeWidth": 3},
          "encoding": {}
        },
        {
          "data": {"name": "pl_flat"},
          "transform": [{"fold": ["Ferrite", "HAPferrite", "CuOHAPferrite"], "as": ["sample", "v"]}],
          "mark": {"type": "line", "strokeWidth": 1.8},
          "encoding": {
            "color": {
              "field": "sample", "type": "nominal", "legend": null,
              "scale": {"domain": ["Ferrite", "HAPferrite", "CuOHAPferrite"], "range": ["#1f8f1f", "#2020f5", "#f52020"]}
            }
          }
        },
        {
          "data": {"name": "a_series"},
          "mark": {"type": "text", "align": "right", "baseline": "alphabetic", "fontSize": 27, "fontWeight": "bold", "color": "#111111"},
          "encoding": {"text": {"field": "label"}}
        },
        {
          "data": {"name": "a_peaks"},
          "mark": {"type": "text", "align": "center", "baseline": "middle", "fontSize": 26, "fontWeight": "bold", "color": "#111111"},
          "encoding": {"text": {"field": "label"}}
        },
        {
          "data": {"name": "a_tag"},
          "mark": {"type": "text", "align": "left", "baseline": "middle", "fontSize": 48, "fontWeight": "bold", "color": "#111111"},
          "encoding": {"text": {"field": "label"}}
        }
      ]
    },
    {
      "width": 549,
      "height": 393,
      "view": {"stroke": null},
      "resolve": {"axis": {"x": "independent", "y": "independent"}},
      "layer": [
        {
          "encoding": {
            "x": {
              "field": "shift", "type": "quantitative",
              "scale": {"domain": [150, 1085], "range": [17, 549], "nice": false, "zero": false},
              "title": "Raman Shift / cm⁻¹",
              "axis": {
                "values": [150, 200, 250, 300, 350, 400, 450, 500, 550, 600, 650, 700, 750, 800, 850, 900, 950, 1000, 1050],
                "format": "d",
                "labelExpr": "datum.value % 100 === 0 ? datum.label : ''",
                "labelFontSize": 22, "labelPadding": 6.5, "labelFlush": false, "labelOverlap": false,
                "titleFontSize": 36, "titlePadding": 13.5, "domain": true
              }
            },
            "y": {
              "field": "v", "type": "quantitative",
              "scale": {"domain": [0, 393], "nice": false, "zero": false},
              "title": "Intensity / a.u.",
              "axis": {"ticks": false, "labels": false, "domain": true, "offset": -17, "titleFontSize": 38, "titlePadding": 29, "titleY": 207}
            }
          },
          "layer": [
            {
              "data": {"name": "raman"},
              "mark": {"type": "line", "strokeWidth": 2},
              "encoding": {
                "color": {
                  "field": "sample", "type": "nominal", "legend": null,
                  "scale": {"domain": ["CuO/HAP/ferrite", "HAP:Ferrite", "CuO", "HAP"], "range": ["#9632f0", "#1a1aff", "#141414", "#ff1a1a"]}
                }
              }
            },
            {
              "data": {"name": "b_tag"},
              "mark": {"type": "text", "align": "left", "baseline": "middle", "fontSize": 44, "fontWeight": "bold", "color": "#111111"},
              "encoding": {"text": {"field": "label"}}
            },
            {
              "data": {"name": "b_exc"},
              "mark": {"type": "text", "align": "left", "baseline": "alphabetic", "fontSize": 19, "fontWeight": "bold", "color": "#1a1a1a", "text": "λ"},
              "encoding": {}
            },
            {
              "data": {"name": "b_exc"},
              "mark": {"type": "text", "align": "left", "baseline": "alphabetic", "fontSize": 11, "fontWeight": "bold", "color": "#1a1a1a", "text": "exc", "dx": 13, "dy": 7},
              "encoding": {}
            },
            {
              "data": {"name": "b_exc"},
              "mark": {"type": "text", "align": "left", "baseline": "alphabetic", "fontSize": 19, "fontWeight": "bold", "color": "#1a1a1a", "text": "= 633 nm", "dx": 35},
              "encoding": {}
            }
          ]
        },
        {
          "data": {"name": "b_series"},
          "mark": {"type": "text", "align": "left", "baseline": "alphabetic", "fontSize": 20, "fontWeight": "bold", "color": "#1a1a1a"},
          "encoding": {
            "x": {
              "field": "shift", "type": "quantitative",
              "scale": {"domain": [150, 1085], "range": [17, 549], "nice": false, "zero": false},
              "axis": {"orient": "top", "domain": true, "ticks": false, "labels": false, "title": null}
            },
            "y": {
              "field": "v", "type": "quantitative",
              "scale": {"domain": [0, 393], "nice": false, "zero": false},
              "axis": {"orient": "right", "domain": true, "ticks": false, "labels": false, "title": null}
            },
            "text": {"field": "label"}
          }
        }
      ]
    }
  ]
}
